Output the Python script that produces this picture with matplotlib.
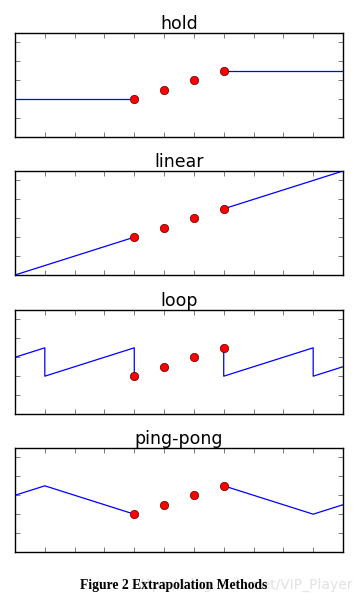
import numpy as np
import matplotlib.pyplot as plt

# key points (shared by all four panels)
key_x = [0, 1, 2, 3]
key_y = [0, 1, 2, 3]

titles = ["hold", "linear", "loop", "ping-pong"]

# extrapolated curve before / after the keys
left_x = {
    "hold": [-4, 0],
    "linear": [-4, 0],
    "loop": [-4, -3, -3, 0, 0],
    "ping-pong": [-4, -3, 0],
}
left_y = {
    "hold": [0, 0],
    "linear": [-4, 0],
    "loop": [2, 3, 0, 3, 0],
    "ping-pong": [2, 3, 0],
}
right_x = {
    "hold": [3, 7],
    "linear": [3, 7],
    "loop": [3, 3, 6, 6, 7],
    "ping-pong": [3, 6, 7],
}
right_y = {
    "hold": [3, 3],
    "linear": [3, 7],
    "loop": [3, 0, 3, 0, 1],
    "ping-pong": [3, 0, 1],
}

W, H = 364, 601
fig = plt.figure(figsize=(W / 100, H / 100), dpi=100)

ax_left, ax_right = 15, 343
tops = [33, 171, 310, 448]
ax_h = 104

for title, top in zip(titles, tops):
    ax = fig.add_axes([ax_left / W, 1 - (top + ax_h) / H,
                       (ax_right - ax_left) / W, ax_h / H])
    ax.plot(left_x[title], left_y[title], color='b', lw=0.9)
    ax.plot(right_x[title], right_y[title], color='b', lw=0.9)
    ax.plot(key_x, key_y, 'o', color='red', mec='#550000', mew=0.5, ms=6, zorder=3)
    ax.set_xlim(-4, 7)
    ax.set_ylim(-4, 7)
    ax.set_xticks(np.arange(-4, 8, 1))
    ax.set_yticks(np.arange(-4, 8, 2))
    ax.tick_params(direction='in', length=3.5, width=0.6, color='#666666',
                   top=True, right=True, labelbottom=False, labelleft=False)
    for s in ax.spines.values():
        s.set_linewidth(1.0)
    ax.set_title(title, fontsize=12.5, pad=3, family='DejaVu Sans')

# faint watermark sits behind the caption, as in the source image
fig.text(353 / W, 1 - 585 / H, "https://blog.csdn.net/VIP_Player",
         ha='right', va='center', fontsize=10, color='#e2e2e2',
         family='DejaVu Sans', zorder=1)
fig.text(174 / W, 1 - 586 / H, "Figure 2 Extrapolation Methods",
         ha='center', va='center', fontsize=9.8, fontweight='bold',
         family='Liberation Serif', zorder=2)

fig.savefig("out.png", dpi=100)
